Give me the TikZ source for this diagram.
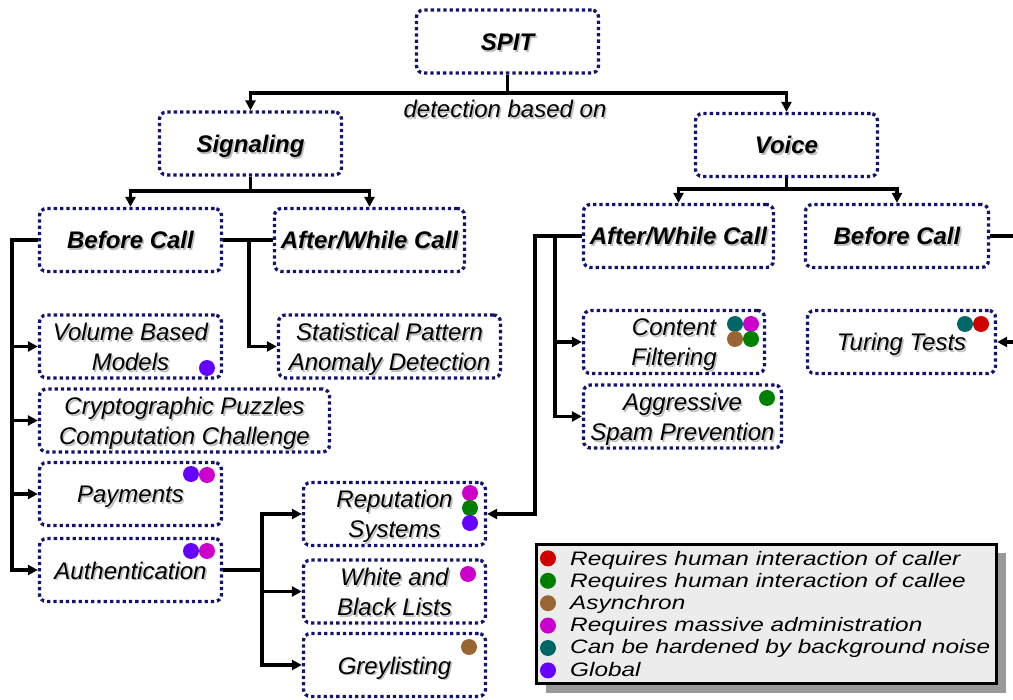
\documentclass[tikz,border=0pt]{standalone}
\usepackage{fontspec}
\setmainfont{Liberation Sans}
\newfontfamily\legendfont[FakeStretch=1.25]{Liberation Sans}
\usetikzlibrary{arrows.meta, shadows}

\definecolor{navy}{HTML}{14146E}
\definecolor{caller}{HTML}{D00000}
\definecolor{callee}{HTML}{008000}
\definecolor{async}{HTML}{996633}
\definecolor{admin}{HTML}{CC00CC}
\definecolor{noise}{HTML}{006666}
\definecolor{global}{HTML}{6600FF}
\definecolor{legendshade}{HTML}{999999}
\definecolor{textshade}{HTML}{BEBEBE}

\tikzset{
  box/.style={draw=navy, line width=3.3pt, dash pattern=on 3.3pt off 3pt, rounded corners=7pt,
    minimum height=63pt, inner sep=0pt, align=center, font=\itshape\fontsize{24}{30}\selectfont},
  head/.style={box, font=\bfseries\itshape\fontsize{24}{30}\selectfont},
  conn/.style={line width=3.2pt},
  legendtext/.style={anchor=west, inner sep=0pt, font=\legendfont\itshape\fontsize{19.5}{22}\selectfont},
}
% text with a soft drop shadow, lines split by \\
\newcommand{\sh}[1]{\raisebox{-3pt}[\height][\depth]{%
  \rlap{\smash{\kern1.6pt\raisebox{-1.6pt}{\color{textshade}\begin{tabular}{@{}c@{}}#1\end{tabular}}}}%
  \begin{tabular}{@{}c@{}}#1\end{tabular}}}
\newcommand{\spot}[2]{\fill[#1] (#2) circle[radius=8pt];}

\begin{document}
\begin{tikzpicture}[x=1pt,y=-1pt,>={Triangle[length=10pt,width=10pt]}]
  \useasboundingbox (0,0) rectangle (1013,700);

  % top levels
  \node[head, minimum width=182] (spit) at (507.5,41.5) {\sh{SPIT}};
  \node[head, minimum width=182] (sig) at (250.5,143.5) {\sh{Signaling}};
  \node[head, minimum width=182] (voice) at (786.5,145) {\sh{Voice}};
  \node[font=\itshape\fontsize{24}{30}\selectfont] (det) at (505,109) {\sh{detection based on}};

  \node[head, minimum width=182] (sigbefore) at (130.5,240) {\sh{Before Call}};
  \node[head, minimum width=190] (sigafter) at (369.5,240) {\sh{After/While Call}};
  \node[head, minimum width=190] (vafter) at (678.5,236) {\sh{After/While Call}};
  \node[head, minimum width=183] (vbefore) at (897,236) {\sh{Before Call}};

  % methods
  \node[box, minimum width=182] (volume) at (130.5,346.5) {\sh{Volume Based\\Models}};
  \node[box, minimum width=222] (stat) at (389.5,346.5) {\sh{Statistical Pattern\\Anomaly Detection}};
  \node[box, minimum width=290] (crypto) at (184.5,420.5) {\sh{Cryptographic Puzzles\\Computation Challenge}};
  \node[box, minimum width=182] (pay) at (130.5,494) {\sh{Payments}};
  \node[box, minimum width=182] (auth) at (130.5,570) {\sh{Authentication}};
  \node[box, minimum width=182] (rep) at (394.5,514) {\sh{Reputation\\Systems}};
  \node[box, minimum width=182] (wbl) at (394.5,591.5) {\sh{White and\\Black Lists}};
  \node[box, minimum width=182] (grey) at (394.5,665) {\sh{Greylisting}};
  \node[box, minimum width=181] (content) at (674,342) {\sh{Content\\Filtering}};
  \node[box, minimum width=198] (aggr) at (682.5,416.5) {\sh{Aggressive\\Spam Prevention}};
  \node[box, minimum width=188] (turing) at (901.5,342) {\sh{Turing Tests}};

  % connectors
  \coordinate (j1) at (507.5,93);
  \draw[conn] (spit.south) -- (j1);
  \draw[conn,->] (j1) -| (sig);
  \draw[conn,->] (j1) -| (voice);

  \coordinate (j2) at (250.5,191);
  \draw[conn] (sig.south) -- (j2);
  \draw[conn,->] (j2) -| (sigbefore);
  \draw[conn,->] (j2) -| (sigafter);

  \coordinate (j3) at (786.5,189);
  \draw[conn] (voice.south) -- (j3);
  \draw[conn,->] (j3) -| (vafter);
  \draw[conn,->] (j3) -| (vbefore);

  \coordinate (bl) at (12,240);
  \draw[conn,->] (sigbefore.west) -- (bl) |- (auth);
  \foreach \n in {volume,crypto,pay}
    \draw[conn,->] (bl |- \n) -- (\n);

  \coordinate (sj) at (249,240);
  \draw[conn] (sigbefore.east) -- (sigafter.west);
  \draw[conn,->] (sj) |- (stat);

  \coordinate (va) at (535,236);
  \coordinate (vb) at (555,236);
  \draw[conn,->] (vafter.west) -- (va) |- (rep);
  \draw[conn,->] (vb) |- (content);
  \draw[conn,->] (vb) |- (aggr);

  \coordinate (vr) at (1020,236);
  \draw[conn,->] (vbefore.east) -- (vr) |- (turing);

  \coordinate (aj) at (262,570);
  \draw[conn] (auth.east) -- (aj);
  \foreach \n in {rep,wbl,grey}
    \draw[conn,->] (aj) |- (\n);

  % property marks
  \spot{global}{207,368}
  \spot{global}{191,474} \spot{admin}{207,475}
  \spot{global}{191,551} \spot{admin}{207,551}
  \spot{admin}{470,493} \spot{callee}{470,508} \spot{global}{470,523}
  \spot{admin}{468,574}
  \spot{async}{469,647}
  \spot{noise}{735,324} \spot{admin}{751,324}
  \spot{async}{735,339} \spot{callee}{751,339}
  \spot{callee}{767,398}
  \spot{noise}{965,324} \spot{caller}{981,324}

  % legend
  \node[draw=black, line width=3pt, fill=gray!15, minimum width=460, minimum height=139,
    drop shadow={shadow xshift=9pt, shadow yshift=-9pt, fill=legendshade, opacity=1}] (legend) at (766.5,614) {};
  \foreach \c/\t [count=\i] in {caller/Requires human interaction of caller,
      callee/Requires human interaction of callee,
      async/Asynchron,
      admin/Requires massive administration,
      noise/Can be hardened by background noise,
      global/Global} {
    \spot{\c}{548,536+22.4*\i}
    \node[legendtext] (leg\i) at (570,538+22*\i) {\t};
  }
\end{tikzpicture}
\end{document}
